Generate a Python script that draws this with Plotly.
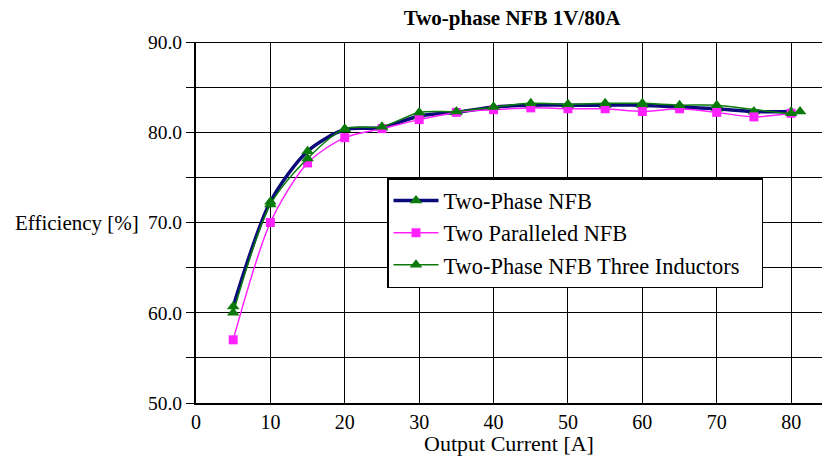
import plotly.graph_objects as go

current = [5, 10, 15, 20, 25, 30, 35, 40, 45, 50, 55, 60, 65, 70, 75, 80]
two_phase = [60.7, 72.3, 77.9, 80.3, 80.5, 81.8, 82.2, 82.8, 83.0, 83.0, 83.0, 83.0, 82.8, 82.6, 82.3, 82.3]
paralleled = [57.0, 70.0, 76.6, 79.4, 80.4, 81.4, 82.2, 82.5, 82.7, 82.6, 82.6, 82.3, 82.6, 82.2, 81.7, 82.1]
current3 = [5, 10, 15, 20, 25, 30, 35, 40, 45, 50, 55, 60, 65, 70, 80, 81.2]
three_ind = [60.0, 72.0, 77.1, 80.4, 80.6, 82.2, 82.3, 82.8, 83.2, 83.1, 83.2, 83.2, 83.0, 83.0, 82.1, 82.3]

y_ticks = [50, 55, 60, 65, 70, 75, 80, 85, 90]
y_labels = ["50.0", "", "60.0", "", "70.0", "", "80.0", "", "90.0"]
x_ticks = [0, 10, 20, 30, 40, 50, 60, 70, 80]

F = "Liberation Serif"

fig = go.Figure()
fig.add_trace(go.Scatter(
    x=current, y=two_phase, name="Two-Phase NFB", mode="lines+markers",
    line=dict(color="#0a0a7a", width=3.5, shape="spline", smoothing=0.8),
    marker=dict(symbol="triangle-up", size=11, color="#0a7a0a"),
))
fig.add_trace(go.Scatter(
    x=current, y=paralleled, name="Two Paralleled NFB", mode="lines+markers",
    line=dict(color="#ff22ff", width=1.5, shape="spline", smoothing=0.8),
    marker=dict(symbol="square", size=9, color="#ff22ff"),
))
fig.add_trace(go.Scatter(
    x=current3, y=three_ind, name="Two-Phase NFB Three Inductors\u00a0\u00a0\u00a0", mode="lines+markers",
    line=dict(color="#0a7a0a", width=1.5, shape="spline", smoothing=0.8),
    marker=dict(symbol="triangle-up", size=11, color="#0a7a0a"),
))

fig.update_layout(
    width=822, height=456,
    margin=dict(l=196, r=0, t=42, b=53),
    paper_bgcolor="white", plot_bgcolor="white",
    font=dict(family=F, color="black", size=20),
    title=dict(text="<b>Two-phase NFB 1V/80A</b>", x=512 / 822, xanchor="center",
               y=1 - 18 / 456, yanchor="middle", font=dict(size=21, family=F, color="black")),
    showlegend=True,
    legend=dict(x=(387 - 196) / 626, y=1 - (178 - 42) / 361, xanchor="left", yanchor="top",
                bgcolor="white", bordercolor="black", borderwidth=1.5,
                font=dict(size=22.4, family=F, color="black"), tracegroupgap=0,
                itemwidth=45),
    xaxis=dict(range=[0, 84.15], tickvals=x_ticks, showgrid=True, gridcolor="black",
               gridwidth=1, showline=True, linecolor="black", linewidth=2,
               ticks="", zeroline=False, tickfont=dict(size=20, family=F, color="black"),
               title=dict(text="Output Current [A]", font=dict(size=22, family=F, color="black"), standoff=0)),
    yaxis=dict(range=[50, 90], tickvals=y_ticks, ticktext=y_labels, showgrid=True,
               gridcolor="black", gridwidth=1, showline=True, linecolor="black",
               linewidth=2, ticks="outside", ticklen=8, tickcolor="black",
               zeroline=False, tickfont=dict(size=19.5, family=F, color="black")),
    annotations=[dict(text="Efficiency [%]", xref="paper", x=(13 - 196) / 626, y=70, yref="y",
                      showarrow=False, xanchor="left", font=dict(size=21, family=F, color="black"))],
)
fig.add_shape(type="line", xref="paper", yref="y", x0=0, x1=1, y0=90, y1=90,
              line=dict(color="black", width=2))

fig.write_html("out.html")
